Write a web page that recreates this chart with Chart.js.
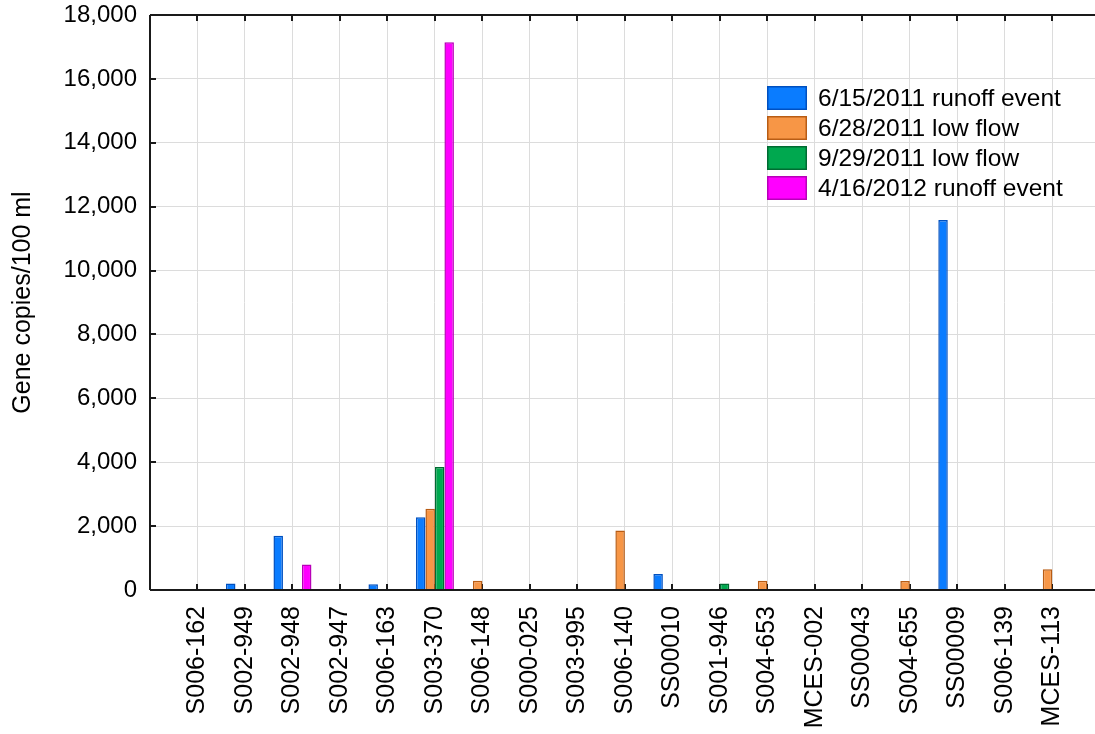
<!DOCTYPE html>
<html>
<head>
<meta charset="utf-8">
<title>Gene copies per sampling site</title>
<script src="https://cdn.jsdelivr.net/npm/chart.js@4.4.1/dist/chart.umd.min.js"></script>
<style>
  html, body { margin: 0; padding: 0; background: #ffffff; }
  #wrap { width: 1095px; height: 734px; position: relative; }
</style>
</head>
<body>
<div id="wrap"><canvas id="chart"></canvas></div>
<script>
// Sampling sites along the x axis
const sites = ['S006-162', 'S002-949', 'S002-948', 'S002-947', 'S006-163', 'S003-370',
  'S006-148', 'S000-025', 'S003-995', 'S006-140', 'SS00010', 'S001-946', 'S004-653',
  'MCES-002', 'SS00043', 'S004-655', 'SS00009', 'S006-139', 'MCES-113'];

// Gene copies / 100 ml for each sampling event, one value per site
const runoff2011Jun15 = [0, 200, 1700, 0, 180, 2280, 0, 0, 0, 0, 500, 0, 0, 0, 0, 0, 11580, 0, 0];
const lowflow2011Jun28 = [0, 0, 0, 0, 0, 2540, 290, 0, 0, 1860, 0, 0, 290, 0, 0, 280, 0, 0, 650];
const lowflow2011Sep29 = [0, 0, 0, 0, 0, 3850, 0, 0, 0, 0, 0, 200, 0, 0, 0, 0, 0, 0, 0];
const runoff2012Apr16 = [0, 0, 800, 0, 0, 17150, 0, 0, 0, 0, 0, 0, 0, 0, 0, 0, 0, 0, 0];

const seriesNames = ['6/15/2011 runoff event', '6/28/2011 low flow', '9/29/2011 low flow', '4/16/2012 runoff event'];

// y axis range and step
const yMin = 0, yMax = 18000, yStep = 2000;

const FONT = '"Liberation Sans", Arial, Helvetica, sans-serif';
const fills = ['#0a7cff', '#f79646', '#00a84f', '#ff00ff'];
const edges = ['#0050c0', '#b85c14', '#006b32', '#b800b8'];

const toPoints = arr => arr.map((v, i) => ({ x: i, y: v }));
const seriesValues = [runoff2011Jun15, lowflow2011Jun28, lowflow2011Sep29, runoff2012Apr16];

const datasets = seriesValues.map((vals, k) => ({
  label: seriesNames[k],
  data: toPoints(vals),
  backgroundColor: fills[k],
  borderColor: edges[k],
  borderWidth: 1.5,
  categoryPercentage: 0.8,
  barPercentage: 1.0
}));

// Inner tick marks on the left, top and bottom edges of the plot
const innerTicks = {
  id: 'innerTicks',
  beforeDatasetsDraw(chart) {
    const { ctx, chartArea: a, scales: { x, y } } = chart;
    ctx.save();
    ctx.strokeStyle = '#1a1a1a';
    ctx.lineWidth = 2;
    ctx.beginPath();
    for (let i = 0; i < sites.length; i++) {
      const px = Math.round(x.getPixelForValue(i));
      ctx.moveTo(px, a.bottom); ctx.lineTo(px, a.bottom - 6);
      ctx.moveTo(px, a.top); ctx.lineTo(px, a.top + 6);
    }
    for (let v = yMin; v <= yMax; v += yStep) {
      const py = Math.round(y.getPixelForValue(v));
      ctx.moveTo(a.left, py); ctx.lineTo(a.left + 6, py);
    }
    ctx.stroke();
    ctx.restore();
  },
  afterDatasetsDraw(chart) {
    const { ctx, chartArea: a } = chart;
    ctx.save();
    ctx.strokeStyle = '#1a1a1a';
    ctx.lineWidth = 2;
    ctx.beginPath();
    ctx.moveTo(a.left, a.top); ctx.lineTo(a.right, a.top);
    ctx.moveTo(a.left, a.top); ctx.lineTo(a.left, a.bottom);
    ctx.moveTo(a.left, a.bottom); ctx.lineTo(a.right, a.bottom);
    ctx.stroke();
    ctx.restore();
  }
};

// Legend drawn inside the plot area, upper right
const boxLegend = {
  id: 'boxLegend',
  afterDraw(chart) {
    const { ctx } = chart;
    const left = 767, top = 86, boxW = 40, boxH = 24, pitch = 30, gap = 11;
    ctx.save();
    ctx.font = '24.5px ' + FONT;
    ctx.textBaseline = 'middle';
    ctx.textAlign = 'left';
    chart.data.datasets.forEach((ds, k) => {
      const y0 = top + k * pitch;
      ctx.fillStyle = ds.backgroundColor;
      ctx.fillRect(left, y0, boxW, boxH);
      ctx.strokeStyle = ds.borderColor;
      ctx.lineWidth = 1.5;
      ctx.strokeRect(left + 0.75, y0 + 0.75, boxW - 1.5, boxH - 1.5);
      ctx.fillStyle = '#000000';
      ctx.fillText(ds.label, left + boxW + gap, y0 + boxH / 2 + 1);
    });
    ctx.restore();
  }
};

new Chart(document.getElementById('chart'), {
  type: 'bar',
  data: { datasets },
  plugins: [innerTicks, boxLegend],
  options: {
    responsive: true,
    maintainAspectRatio: false,
    animation: false,
    layout: { padding: { top: 15, right: 0, bottom: 0, left: 0 } },
    plugins: {
      legend: { display: false },
      tooltip: { enabled: false }
    },
    scales: {
      x: {
        type: 'linear',
        offset: false,
        min: -1,
        max: 18.9,
        afterBuildTicks(scale) {
          scale.ticks = scale.ticks.filter(t => Number.isInteger(t.value));
        },
        afterFit(scale) {
          scale.height = 144;
          scale.paddingLeft = 0;
          scale.paddingRight = 0;
        },
        border: { display: false },
        grid: {
          offset: false,
          drawTicks: false,
          lineWidth: 1,
          color: c => (c.tick && c.tick.value >= 0 ? '#dcdcdc' : 'rgba(0,0,0,0)')
        },
        ticks: {
          stepSize: 1,
          autoSkip: false,
          minRotation: 90,
          maxRotation: 90,
          padding: 16,
          color: '#000000',
          font: { family: FONT, size: 25 },
          callback: v => (Number.isInteger(v) && sites[v] !== undefined ? sites[v] : '')
        }
      },
      y: {
        min: yMin,
        max: yMax,
        afterFit(scale) {
          scale.width = 150;
          scale.paddingTop = 0;
          scale.paddingBottom = 0;
        },
        border: { display: false },
        grid: { drawTicks: false, lineWidth: 1, color: '#dcdcdc' },
        ticks: {
          stepSize: yStep,
          padding: 13,
          color: '#000000',
          font: { family: FONT, size: 24 },
          callback: v => v.toLocaleString('en-US')
        },
        title: {
          display: true,
          text: 'Gene copies/100 ml',
          color: '#000000',
          font: { family: FONT, size: 25 },
          padding: { top: 8, bottom: 0 }
        }
      }
    }
  }
});
</script>
</body>
</html>
